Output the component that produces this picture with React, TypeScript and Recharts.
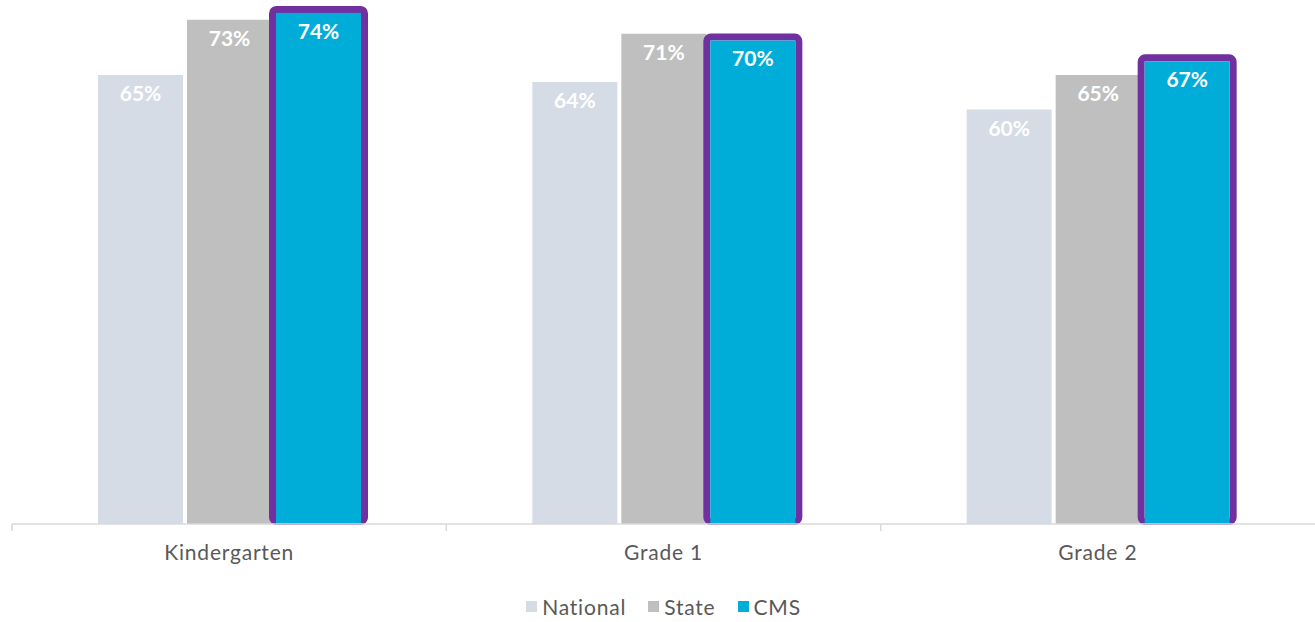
import { BarChart, Bar, XAxis, YAxis, Legend, LabelList } from 'recharts';

const categories = ['Kindergarten', 'Grade 1', 'Grade 2'];
const national = [65, 64, 60];
const state = [73, 71, 65];
const cms = [74, 70, 67];
const seriesOrder = ['National', 'State', 'CMS'];

const COLORS = {
  national: '#D6DCE5',
  state: '#BFBFBF',
  cms: '#00ADD8',
  outline: '#7030A0',
  axis: '#D9D9D9',
  text: '#595959',
};

const data = categories.map((name, i) => ({
  name,
  National: national[i],
  State: state[i],
  CMS: cms[i],
}));

// CMS bars get a thick purple frame drawn just outside the fill
function OutlinedBar(props: any) {
  const { x, y, width, height, fill } = props;
  const sw = 7;
  return (
    <g>
      <rect
        x={x - sw / 2}
        y={y - sw / 2}
        width={width + sw}
        height={height + 1}
        rx={4}
        fill="none"
        stroke={COLORS.outline}
        strokeWidth={sw}
      />
      <rect x={x} y={y} width={width} height={height} fill={fill} />
    </g>
  );
}

function CategoryTick(props: any) {
  const { x, y, payload, width, visibleTicksCount } = props;
  const band = width / visibleTicksCount;
  const left = x - band / 2;
  return (
    <g>
      <line x1={left} x2={left} y1={y - 8} y2={y - 1} stroke={COLORS.axis} strokeWidth={1.5} />
      <text x={x} y={y} dy={28} textAnchor="middle" fill={COLORS.text} fontSize={21} letterSpacing={0.8}>
        {payload.value}
      </text>
    </g>
  );
}

function LegendContent({ payload }: any) {
  const items = [...(payload || [])].sort(
    (a: any, b: any) => seriesOrder.indexOf(a.value) - seriesOrder.indexOf(b.value)
  );
  return (
    <div style={{ display: 'flex', justifyContent: 'center', gap: 22, alignItems: 'center' }}>
      {items.map((p: any) => (
        <div key={p.value} style={{ display: 'flex', alignItems: 'center', gap: 5 }}>
          <span style={{ width: 11, height: 11, background: p.color, display: 'inline-block' }} />
          <span style={{ color: COLORS.text, fontSize: 21, letterSpacing: 0.8 }}>{p.value}</span>
        </div>
      ))}
    </div>
  );
}

const pct = (v: any) => `${v}%`;
const labelStyle = { fill: '#ffffff', fontSize: 21, fontWeight: 700 };

export default function App() {
  return (
    <div style={{ position: 'absolute', left: 0, top: 0, fontFamily: 'Lato, "Noto Sans", sans-serif', background: '#fff' }}>
      <BarChart
        width={1315}
        height={622}
        data={data}
        margin={{ top: 6, right: 0, bottom: 0, left: 12 }}
        barSize={85}
        barGap={4}
      >
        <XAxis
          dataKey="name"
          height={70}
          axisLine={{ stroke: COLORS.axis, strokeWidth: 1.5 }}
          tickLine={false}
          tick={<CategoryTick />}
          interval={0}
        />
        <YAxis hide domain={[0, 75]} />
        <Legend verticalAlign="bottom" height={28} content={<LegendContent />} />
        <Bar dataKey="National" fill={COLORS.national} isAnimationActive={false}>
          <LabelList dataKey="National" position="insideTop" offset={11} formatter={pct} style={labelStyle} />
        </Bar>
        <Bar dataKey="State" fill={COLORS.state} isAnimationActive={false}>
          <LabelList dataKey="State" position="insideTop" offset={11} formatter={pct} style={labelStyle} />
        </Bar>
        <Bar dataKey="CMS" fill={COLORS.cms} shape={<OutlinedBar />} isAnimationActive={false}>
          <LabelList dataKey="CMS" position="insideTop" offset={11} formatter={pct} style={labelStyle} />
        </Bar>
      </BarChart>
    </div>
  );
}
